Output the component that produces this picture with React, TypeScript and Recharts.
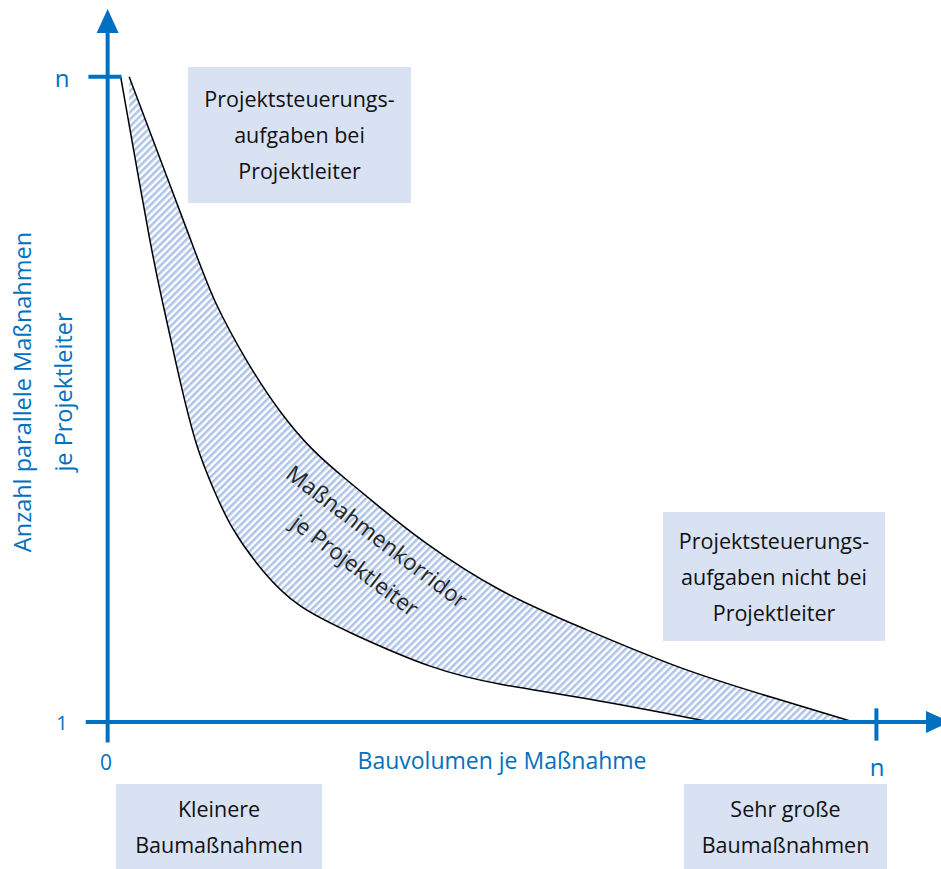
import React from "react";
import {
  ComposedChart,
  Area,
  XAxis,
  YAxis,
  ReferenceLine,
  ReferenceDot,
} from "recharts";

// x: Bauvolumen (0 .. n = 100), y: parallele Maßnahmen (1 .. n = 100)
const upperX = [2.8, 11.8, 13.7, 18.1, 22.4, 26.7, 31.1, 35.4, 40.6, 51.0, 61.5, 74.5, 87.5, 97.0];
const upperY = [100, 71.6, 65.4, 55.7, 47.9, 41.9, 37.5, 33.3, 28.2, 20.0, 14.7, 8.1, 3.4, 0];
const lowerX = [1.7, 5.9, 7.1, 9.4, 11.6, 13.7, 15.9, 20.2, 24.6, 31.5, 42.3, 51.0, 61.5, 78.4];
const lowerY = [100, 71.6, 65.4, 52.7, 42.2, 36.3, 30.2, 23.1, 17.8, 13.8, 8.1, 5.7, 3.9, 0];

const W = 941;
const H = 869;
const BLUE = "#0070c0";
const BOX = "#d9e2f3";
const FONT = "'Open Sans', sans-serif";

const rows = [
  ...upperX.map((x, i) => ({ x, upper: upperY[i] })),
  ...lowerX.map((x, i) => ({ x, lower: lowerY[i] })),
].sort((a, b) => a.x - b.x);

const ArrowUp = (props: any) => (
  <polygon
    points={`${props.cx - 11},${props.cy} ${props.cx + 11},${props.cy} ${props.cx},${props.cy - 24}`}
    fill={BLUE}
  />
);
const ArrowRight = (props: any) => (
  <polygon
    points={`${props.cx},${props.cy - 11} ${props.cx},${props.cy + 11} ${props.cx + 24},${props.cy}`}
    fill={BLUE}
  />
);

const box = (left: number, top: number, width: number, height: number, lines: string[]) => (
  <div
    style={{
      position: "absolute",
      left,
      top,
      width,
      height,
      background: BOX,
      display: "flex",
      flexDirection: "column",
      justifyContent: "center",
      alignItems: "center",
      fontFamily: FONT,
      fontSize: 21.5,
      lineHeight: "36px",
      color: "#111",
    }}
  >
    {lines.map((l) => (
      <div key={l}>{l}</div>
    ))}
  </div>
);

const label = (x: number, y: number, text: string, size: number) => (
  <div
    style={{
      position: "absolute",
      left: x,
      top: y,
      transform: "translate(-50%, -50%)",
      fontFamily: FONT,
      fontSize: size,
      color: BLUE,
      whiteSpace: "nowrap",
    }}
  >
    {text}
  </div>
);

export default function App() {
  return (
    <div style={{ position: "absolute", left: 0, top: 0, width: W, height: H, overflow: "hidden", background: "#fff" }}>
      <ComposedChart width={W} height={H} data={rows} margin={{ top: 0, right: 0, bottom: 0, left: 0 }}>
        <defs>
          <pattern id="hatch" width="5" height="5" patternUnits="userSpaceOnUse" patternTransform="rotate(45)">
            <rect x="0" y="0" width="2.6" height="5" fill="#b0c5e6" />
          </pattern>
        </defs>
        <XAxis type="number" dataKey="x" domain={[-14, 108.4]} hide />
        <YAxis type="number" domain={[-22.8, 111.9]} hide />
        <Area
          type="basis"
          dataKey="upper"
          baseValue={0}
          connectNulls
          stroke="#000"
          strokeWidth={1.5}
          fill="url(#hatch)"
          fillOpacity={1}
          isAnimationActive={false}
          dot={false}
          activeDot={false}
        />
        <Area
          type="basis"
          dataKey="lower"
          baseValue={0}
          connectNulls
          stroke="#000"
          strokeWidth={1.5}
          fill="#fff"
          fillOpacity={1}
          isAnimationActive={false}
          dot={false}
          activeDot={false}
        />
        <ReferenceLine segment={[{ x: -2.85, y: 0 }, { x: 106.45, y: 0 }]} stroke={BLUE} strokeWidth={4} ifOverflow="visible" />
        <ReferenceLine segment={[{ x: 0, y: -3.2 }, { x: 0, y: 106.8 }]} stroke={BLUE} strokeWidth={4} ifOverflow="visible" />
        <ReferenceLine segment={[{ x: -2.5, y: 100 }, { x: 1.8, y: 100 }]} stroke={BLUE} strokeWidth={4} ifOverflow="visible" />
        <ReferenceLine segment={[{ x: 100, y: -2.9 }, { x: 100, y: 2.1 }]} stroke={BLUE} strokeWidth={4} ifOverflow="visible" />
        <ReferenceDot x={0} y={106.8} r={0} shape={ArrowUp} ifOverflow="visible" />
        <ReferenceDot x={106.45} y={0} r={0} shape={ArrowRight} ifOverflow="visible" />
      </ComposedChart>

      {box(188, 67, 223, 136, ["Projektsteuerungs-", "aufgaben bei", "Projektleiter"])}
      {box(663, 512, 222, 129, ["Projektsteuerungs-", "aufgaben nicht bei", "Projektleiter"])}
      {box(116, 784, 206, 85, ["Kleinere", "Baumaßnahmen"])}
      {box(684, 784, 203, 85, ["Sehr große", "Baumaßnahmen"])}

      {label(62, 77, "n", 24)}
      {label(62, 722, "1", 20)}
      {label(106, 762, "0", 21)}
      {label(877, 766, "n", 24)}
      {label(502, 760, "Bauvolumen je Maßnahme", 23)}

      <div
        style={{
          position: "absolute",
          left: 43,
          top: 392,
          transform: "translate(-50%, -50%) rotate(-90deg)",
          fontFamily: FONT,
          fontSize: 23.5,
          lineHeight: "41px",
          color: BLUE,
          whiteSpace: "nowrap",
          textAlign: "center",
        }}
      >
        <div>Anzahl parallele Maßnahmen</div>
        <div>je Projektleiter</div>
      </div>

      <div
        style={{
          position: "absolute",
          left: 366,
          top: 551,
          transform: "translate(-50%, -50%) rotate(37deg)",
          fontFamily: FONT,
          fontSize: 22.5,
          lineHeight: "36px",
          color: "#262626",
          whiteSpace: "nowrap",
          textAlign: "center",
        }}
      >
        <div>Maßnahmenkorridor</div>
        <div>je Projektleiter</div>
      </div>
    </div>
  );
}
